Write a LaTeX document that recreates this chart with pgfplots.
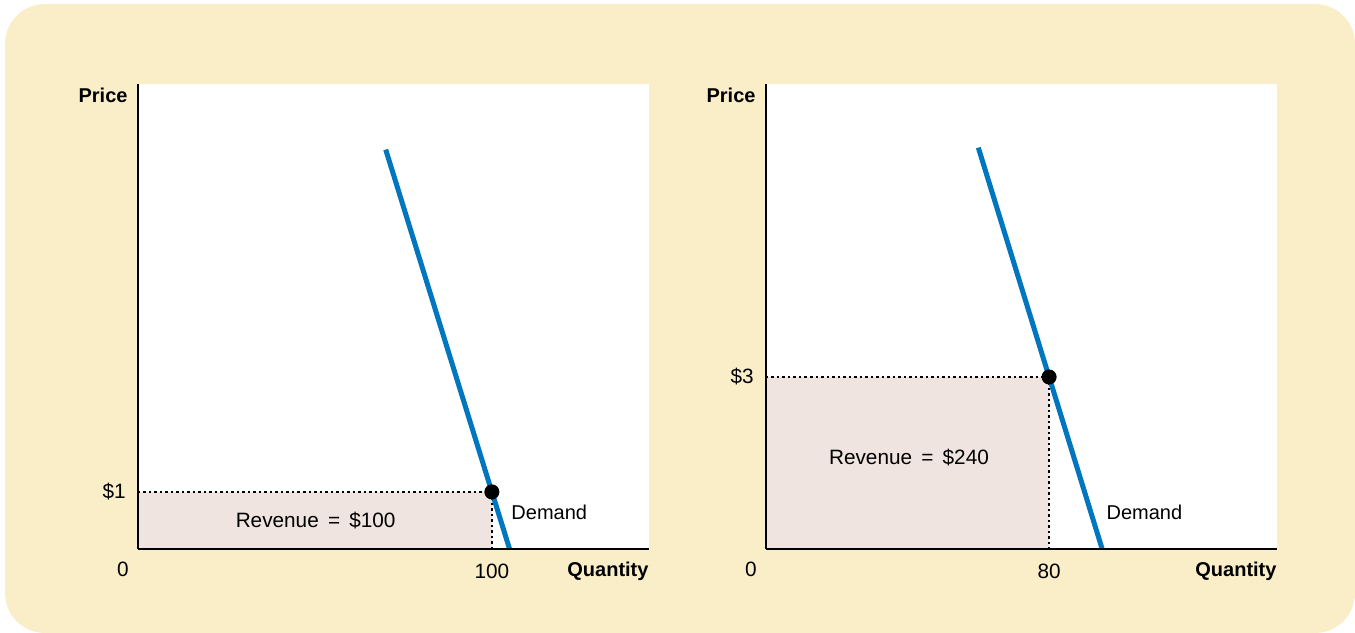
\documentclass[border=0pt]{standalone}
\usepackage{pgfplots}
\pgfplotsset{compat=1.18}
\usepackage{fontspec}
\setmainfont{Liberation Sans}
\definecolor{bgyellow}{RGB}{250,238,200}
\definecolor{demandblue}{RGB}{0,118,190}
\definecolor{revfill}{RGB}{239,228,223}
\newcommand{\chartfont}{\fontsize{8pt}{9.6pt}\selectfont}
\newcommand{\revfont}{\fontsize{8.3pt}{10pt}\selectfont}
\pgfplotsset{
  econ/.style={
    scale only axis,
    width=204.4pt, height=186pt,
    anchor=south west,
    xmin=0, xmax=144.4,
    ymin=0,
    axis lines=left,
    axis line style={-, line width=0.7pt},
    axis background/.style={fill=white},
    axis on top,
    clip=false,
    major tick length=0pt,
    tick label style={font=\revfont},
    xticklabel style={yshift=-2.3pt},
    yticklabel style={xshift=-1.4pt},
    /pgf/number format/assume math mode=true,
  },
  dots/.style={black, line width=1pt, dash pattern=on 1pt off 1.2pt},
}
\begin{document}
\begin{tikzpicture}
\fill[white] (0,0) rectangle (542pt,253.2pt);
\fill[bgyellow, rounded corners=16pt] (2pt,0pt) rectangle (542pt,251.6pt);
% Left panel
\begin{axis}[econ, at={(55.2pt,33.6pt)}, ymax=8.15,
  xtick={100}, xticklabels={100},
  ytick={1}, yticklabels={\$1}]
\addplot[fill=revfill, draw=none] coordinates {(0,0) (0,1) (100,1) (100,0)} -- cycle;
\addplot[dots] coordinates {(0,1) (100,1)};
\addplot[dots] coordinates {(100,1) (100,0)};
\addplot[demandblue, line width=2pt] coordinates {(70,7) (105,0)};
\addplot[only marks, mark=*, mark size=2.8pt, black] coordinates {(100,1)};
\node[font=\chartfont, anchor=west, inner sep=0pt] at (axis cs:105.4,0.65) {Demand};
\node[font=\revfont] at (axis cs:50.2,0.49) {Revenue\, = \,\$100};
\node[font=\chartfont\bfseries, anchor=north east, inner sep=0pt, xshift=-4pt, yshift=-1.6pt] at (rel axis cs:0,1) {Price};
\node[font=\chartfont\bfseries, anchor=north east, inner sep=0pt, yshift=-5pt] at (rel axis cs:1,0) {Quantity};
\node[font=\revfont, xshift=-6pt, yshift=-8pt] at (rel axis cs:0,0) {0};
\end{axis}
% Right panel
\begin{axis}[econ, at={(306.4pt,33.6pt)}, ymax=8.11,
  xtick={80}, xticklabels={80},
  ytick={3}, yticklabels={\$3}]
\addplot[fill=revfill, draw=none] coordinates {(0,0) (0,3) (80,3) (80,0)} -- cycle;
\addplot[dots] coordinates {(0,3) (80,3)};
\addplot[dots] coordinates {(80,3) (80,0)};
\addplot[demandblue, line width=2pt] coordinates {(60,7) (95,0)};
\addplot[only marks, mark=*, mark size=2.8pt, black] coordinates {(80,3)};
\node[font=\chartfont, anchor=west, inner sep=0pt] at (axis cs:96.1,0.645) {Demand};
\node[font=\revfont] at (axis cs:40.4,1.59) {Revenue\, = \,\$240};
\node[font=\chartfont\bfseries, anchor=north east, inner sep=0pt, xshift=-4pt, yshift=-1.6pt] at (rel axis cs:0,1) {Price};
\node[font=\chartfont\bfseries, anchor=north east, inner sep=0pt, yshift=-5pt] at (rel axis cs:1,0) {Quantity};
\node[font=\revfont, xshift=-6pt, yshift=-8pt] at (rel axis cs:0,0) {0};
\end{axis}
\end{tikzpicture}
\end{document}
